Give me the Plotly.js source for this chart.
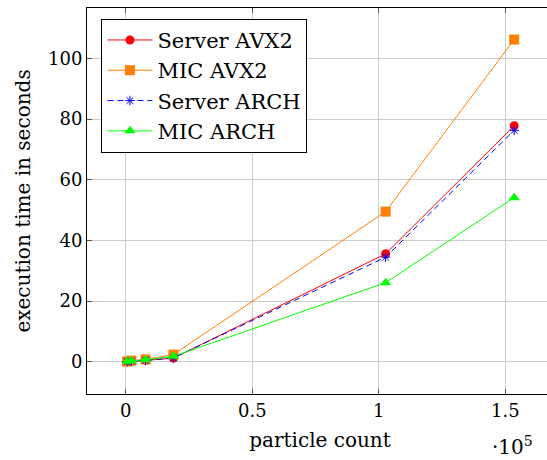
<!DOCTYPE html>
<html><head><meta charset="utf-8">
<script src="https://cdn.plot.ly/plotly-3.0.1.min.js"></script>
<style>html,body{margin:0;padding:0;overflow:hidden;background:#fff}#chart{width:560px;height:460px}</style>
</head><body><div id="chart"></div>
<script>
const particleCount = [500, 2200, 7800, 18800, 102700, 153500];
const serverAVX2 = [0.05, 0.2, 0.5, 1.2, 35.6, 77.8];
const micAVX2 = [0.1, 0.4, 0.8, 2.4, 49.5, 106.2];
const serverARCH = [0.05, 0.2, 0.5, 1.3, 34.5, 76.3];
const micARCH = [0.1, 0.3, 0.7, 1.8, 26.1, 54.1];
const seriesNames = ["Server AVX2", "MIC AVX2", "Server ARCH", "MIC ARCH"];
const xTickVals = [0, 50000, 100000, 150000];
const xTickText = ["0", "0.5", "1", "1.5"];
const yTickVals = [0, 20, 40, 60, 80, 100];

const FONT = "DejaVu Serif";
const FS_TICK = 18;
const FS_TITLE = 20;
const FS_LEG = 21;
const traces = [
  {x: particleCount, y: serverAVX2, name: seriesNames[0], mode: "lines+markers",
   line: {color: "#ff0000", width: 1}, marker: {symbol: "circle", size: 9, color: "#ff0000"}},
  {x: particleCount, y: micAVX2, name: seriesNames[1], mode: "lines+markers",
   line: {color: "#ff8000", width: 1}, marker: {symbol: "square", size: 10, color: "#ff8000"}},
  {x: particleCount, y: serverARCH, name: seriesNames[2], mode: "lines+markers",
   line: {color: "#0000ff", width: 1, dash: "6px,4px"}, marker: {symbol: "asterisk-open", size: 8, color: "#0000ff", line: {color: "#0000ff", width: 1}}},
  {x: particleCount, y: micARCH, name: seriesNames[3], mode: "lines+markers",
   line: {color: "#00ff00", width: 1}, marker: {symbol: "triangle-up", size: 10, color: "#00ff00"}}
];
const layout = {
  width: 560, height: 460,
  margin: {l: 87, r: 7, t: 8, b: 66},
  paper_bgcolor: "#fff", plot_bgcolor: "#fff",
  font: {family: FONT, size: FS_TICK, color: "#000"},
  showlegend: true,
  legend: {x: 0.031, y: 0.972, xanchor: "left", yanchor: "top", bgcolor: "#fff",
           bordercolor: "#000", borderwidth: 1, font: {family: FONT, size: FS_LEG},
           tracegroupgap: 0, itemwidth: 45},
  xaxis: {range: [-15350, 168850], tickvals: xTickVals, ticktext: xTickText,
          showgrid: true, gridcolor: "#cccccc", gridwidth: 1, zeroline: false,
          showline: true, linecolor: "#000", linewidth: 1, mirror: "ticks",
          ticks: "inside", ticklen: 5, tickcolor: "#555",
          tickfont: {family: FONT, size: FS_TICK},
          title: {text: "particle count", font: {family: FONT, size: FS_TITLE}, standoff: 13}},
  yaxis: {range: [-10.6, 116.6], tickvals: yTickVals,
          showgrid: true, gridcolor: "#cccccc", gridwidth: 1, zeroline: false,
          showline: true, linecolor: "#000", linewidth: 1, mirror: "ticks",
          ticks: "inside", ticklen: 5, tickcolor: "#555",
          tickfont: {family: FONT, size: FS_TICK},
          title: {text: "execution time in seconds", font: {family: FONT, size: FS_TITLE}, standoff: 12}},
  annotations: [{xref: "paper", yref: "paper", x: 0.913, y: -0.135, xanchor: "center", yanchor: "middle",
                 showarrow: false, text: "·10<sup>5</sup>", font: {family: FONT, size: FS_TITLE}}]
};
Plotly.newPlot("chart", traces, layout, {displayModeBar: false, staticPlot: true});
</script></body></html>
